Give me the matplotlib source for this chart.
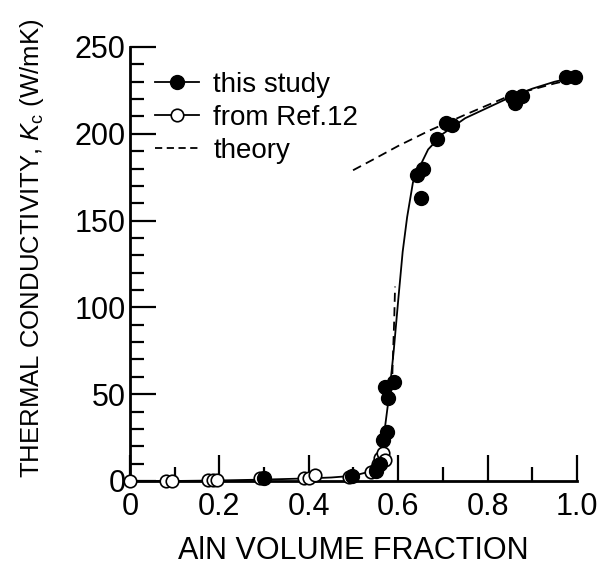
import matplotlib
matplotlib.use('Agg')
import matplotlib.pyplot as plt
from matplotlib.lines import Line2D
from matplotlib.ticker import MultipleLocator

plt.rcParams['font.family'] = ['Liberation Sans', 'DejaVu Sans']
plt.rcParams['mathtext.fontset'] = 'custom'
plt.rcParams['mathtext.it'] = 'Liberation Sans:italic'
plt.rcParams['mathtext.rm'] = 'Liberation Sans'

# this study (filled circles)
this_x = [0.30, 0.497, 0.55, 0.56, 0.567, 0.575, 0.578, 0.571, 0.59,
          0.642, 0.651, 0.655, 0.687, 0.707, 0.72, 0.855, 0.861, 0.877,
          0.975, 0.995]
this_y = [1.5, 3, 6, 10, 23.6, 28, 48, 54, 57,
          176, 163, 180, 197, 206, 205, 221, 218, 222,
          233, 233]

# from Ref.12 (open circles)
ref_x = [0.0, 0.08, 0.095, 0.175, 0.185, 0.195, 0.29, 0.39, 0.40, 0.415,
         0.49, 0.54, 0.55, 0.555, 0.56, 0.565, 0.57]
ref_y = [0, 0, 0, 0.5, 0.5, 0.5, 1.5, 2, 2, 3.5,
         2.5, 5, 7, 10, 13, 16, 12]

# fitted curve (solid)
fit_x = [0.0, 0.1, 0.2, 0.3, 0.4, 0.45, 0.5, 0.53, 0.55, 0.56, 0.57, 0.58,
         0.59, 0.6, 0.61, 0.62, 0.633, 0.65, 0.667, 0.7, 0.75, 0.8, 0.85,
         0.9, 0.95, 1.0]
fit_y = [0, 0, 0.3, 0.8, 1.5, 2, 3, 5, 10, 17, 30, 50,
         75, 104, 132, 152, 172, 182, 191, 200, 209, 215, 221,
         226, 230, 233]

# theory (dashed), two branches
th_hi_x = [0.499, 0.55, 0.6, 0.671, 0.75, 0.85, 0.95, 1.0]
th_hi_y = [179, 186, 193, 202, 211, 222, 229, 232]
th_lo_x = [0.585, 0.588, 0.591, 0.593]
th_lo_y = [45, 70, 92, 112]

fig = plt.figure(figsize=(6.12, 5.69), dpi=100)
ax = fig.add_axes([0.2124, 0.1547, 0.7304, 0.7627])

ax.plot(fit_x, fit_y, '-', color='black', lw=1.3, clip_on=False)
ax.plot(th_hi_x, th_hi_y, '--', color='black', lw=1.3, dashes=(5, 3))
ax.plot(th_lo_x, th_lo_y, '--', color='black', lw=1.3, dashes=(5, 3))
ax.plot(ref_x, ref_y, 'o', mfc='white', mec='black', mew=1.2, ms=9,
        clip_on=False, zorder=3)
ax.plot(this_x, this_y, 'o', color='black', ms=10, clip_on=False, zorder=4)

ax.set_xlim(0, 1.0)
ax.set_ylim(0, 250)
ax.spines['top'].set_visible(False)
ax.spines['right'].set_visible(False)
for s in ('left', 'bottom'):
    ax.spines[s].set_linewidth(2)

ax.set_xticks([0, 0.2, 0.4, 0.6, 0.8, 1.0])
ax.set_xticklabels(['0', '0.2', '0.4', '0.6', '0.8', '1.0'])
ax.xaxis.set_minor_locator(MultipleLocator(0.1))
ax.yaxis.set_major_locator(MultipleLocator(50))
ax.yaxis.set_minor_locator(MultipleLocator(10))
ax.tick_params(which='major', direction='in', length=19, width=1.6,
               labelsize=22)
ax.tick_params(axis='y', which='major', pad=3)
ax.tick_params(axis='x', which='major', pad=8)
ax.tick_params(which='minor', direction='in', length=10, width=1.6)

ax.set_xlabel('AlN VOLUME FRACTION', fontsize=22, labelpad=10)
ax.set_ylabel('THERMAL CONDUCTIVITY, $K_{\\rm c}$ (W/mK)', fontsize=18.5)
ax.yaxis.set_label_coords(-0.188, 0.537)

handles = [
    Line2D([], [], color='black', lw=1.3, marker='o', ms=10),
    Line2D([], [], color='black', lw=1.3, marker='o', ms=9, mfc='white',
           mew=1.2),
    Line2D([], [], color='black', lw=1.3, ls='--', dashes=(4, 2.5)),
]
ax.legend(handles, ['this study', 'from Ref.12', 'theory'], loc='upper left',
          bbox_to_anchor=(0.0, 1.0), frameon=False, fontsize=20,
          handlelength=1.6, handletextpad=0.5, labelspacing=0.25)

fig.savefig('out.png', dpi=100)
